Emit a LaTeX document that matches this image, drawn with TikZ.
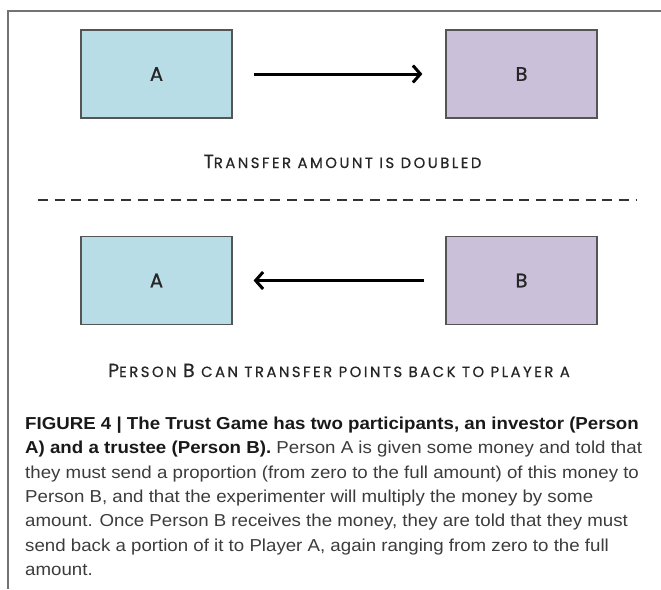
\documentclass[tikz,border=0pt]{standalone}
\usepackage{fontspec}
\setmainfont[FakeStretch=1.08]{Liberation Sans}
\newfontfamily\headfont[LetterSpace=17,FakeBold=0.6]{Poppins}
\newfontfamily\labelfont[FakeBold=0.8]{Poppins}
\usetikzlibrary{arrows.meta}

\definecolor{playerblue}{RGB}{184,221,230}
\definecolor{playerlilac}{RGB}{202,192,218}
\definecolor{edgegray}{RGB}{85,85,85}
\definecolor{captext}{RGB}{60,60,60}

% large letter inside the small caps headings
\newcommand{\capletter}[1]{{\fontsize{19pt}{19pt}\selectfont #1}}

\tikzset{
  player/.style={draw=edgegray, line width=1.2pt, minimum width=151pt,
    minimum height=88pt, inner sep=0pt,
    font=\labelfont\fontsize{19.5pt}{19.5pt}\selectfont, text=black!85},
  transfer/.style={line width=3pt, -{Straight Barb[length=7.5pt,width=17pt]}},
  headtext/.style={font=\headfont\fontsize{14.8pt}{14.8pt}\selectfont,
    text=black!85, inner sep=0pt},
  caption/.style={font=\fontsize{17.3pt}{24.3pt}\selectfont, text=captext,
    align=left, inner sep=0pt}
}

\begin{document}
\begin{tikzpicture}[x=10pt,y=-10pt]
\useasboundingbox (0,0) rectangle (66.1,58.9);

% frame round the figure
\draw[gray!90!black, line width=1.1pt] (66.1,1.1) -- (0.8,1.1) -- (0.8,58.9);

% first round: A sends to B
\node[player, fill=playerblue] (a1) at (15.65,7.4) {A};
\node[player, fill=playerlilac] (b1) at (52.15,7.4) {B};
\draw[transfer, shorten <=21pt, shorten >=23pt] (a1.east) -- (b1.west);
\node[headtext, anchor=base] (doubled) at (34.25,16.8)
  {\capletter{T}RANSFER AMOUNT IS DOUBLED};

\draw[black!80, line width=2pt, dash pattern=on 10pt off 6.6pt] (3.8,20.0) -- (63.7,20.0);

% second round: B sends back to A
\node[player, fill=playerblue] (a2) at (15.65,28.05) {A};
\node[player, fill=playerlilac] (b2) at (52.15,28.05) {B};
\draw[transfer, shorten <=21pt, shorten >=21pt] (b2.west) -- (a2.east);
\node[headtext, anchor=base] (back) at (33.9,37.7)
  {\capletter{P}ERSON \capletter{B} CAN TRANSFER POINTS BACK TO PLAYER A};

% figure caption, placed by the baseline of its last line
\node[caption, anchor=base west] (legend) at (2.5,57.53)
  {{\bfseries\color{black!90}FIGURE 4 | The Trust Game has two participants, an investor (Person}\\
   {\bfseries\color{black!90}A) and a trustee (Person B).} Person A is given some money and told that\\
   they must send a proportion (from zero to the full amount) of this money to\\
   Person B, and that the experimenter will multiply the money by some\\
   amount. Once Person B receives the money, they are told that they must\\
   send back a portion of it to Player A, again ranging from zero to the full\\
   amount.};
\end{tikzpicture}
\end{document}
